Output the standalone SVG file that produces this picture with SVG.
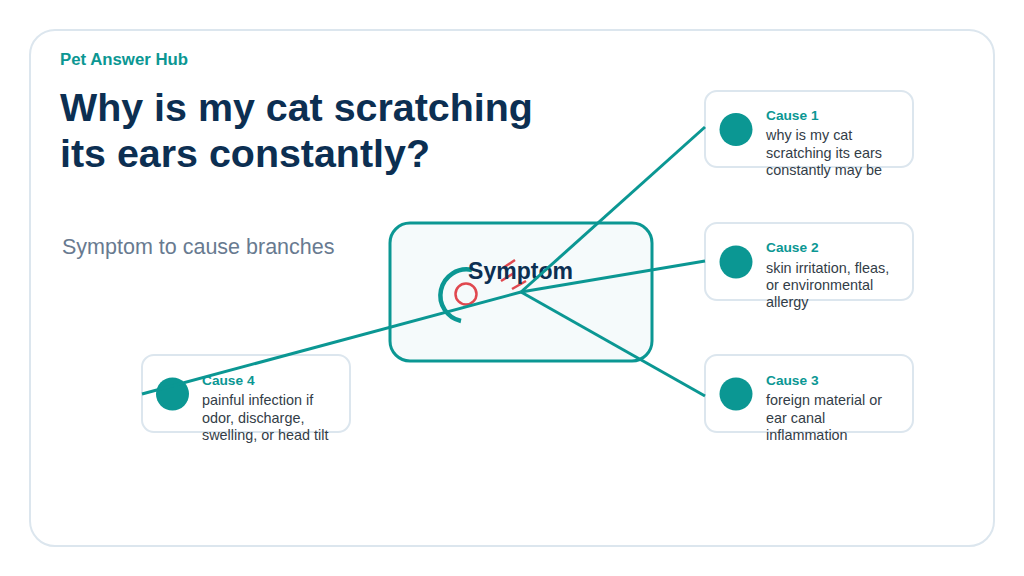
<svg xmlns="http://www.w3.org/2000/svg" width="1024" height="576" viewBox="0 0 1024 576">
<style>
.card{fill:#ffffff;stroke:#dce6ee;stroke-width:2}
.cbox{fill:#ffffff;stroke:#dce6ee;stroke-width:2}
.dot{fill:#0b9793}
.ctitle{font-family:"Liberation Sans",Arial,sans-serif;font-weight:bold;font-size:13.7px;fill:#0b9793}
.cbody{font-family:"Liberation Sans",Arial,sans-serif;font-size:14.4px;fill:#333d47}
.conn{stroke:#0b9793;stroke-width:3;fill:none;stroke-linecap:butt}
</style>
<rect width="1024" height="576" fill="#ffffff"/>
<rect class="card" x="30" y="30" width="964" height="516" rx="25"/>
<text x="60" y="65" font-family="Liberation Sans, Arial, sans-serif" font-weight="bold" font-size="16.8" fill="#0b9793">Pet Answer Hub</text>
<text font-family="Liberation Sans, Arial, sans-serif" font-weight="bold" font-size="39.4" fill="#0c2f52"><tspan x="60" y="121">Why is my cat scratching</tspan><tspan x="60" y="167">its ears constantly?</tspan></text>
<text x="62" y="254" font-family="Liberation Sans, Arial, sans-serif" font-size="21.5" fill="#687a90">Symptom to cause branches</text>

<g id="symptom">
<rect x="390" y="223" width="262" height="138" rx="20" fill="#f5fafb" stroke="#0b9793" stroke-width="3"/>
<path d="M 472 270 A 25 25 0 1 0 461 321" fill="none" stroke="#0b9793" stroke-width="4.5"/>
<circle cx="466" cy="294" r="10.5" fill="none" stroke="#e0484f" stroke-width="2.5"/>
<g stroke="#e0484f" stroke-width="2.5" stroke-linecap="butt">
<line x1="503" y1="268" x2="515" y2="260"/>
<line x1="501" y1="281" x2="514" y2="273"/>
<line x1="512" y1="289" x2="526" y2="281"/>
</g>
<text x="520.5" y="279" text-anchor="middle" font-family="Liberation Sans, Arial, sans-serif" font-weight="bold" font-size="23" fill="#0c2f52">Symptom</text>
</g>

<g id="cause1">
<rect class="cbox" x="705" y="91" width="208" height="76" rx="12"/>
<circle class="dot" cx="736" cy="129.5" r="16.5"/>
<text class="ctitle" x="766" y="120">Cause 1</text>
<text class="cbody"><tspan x="766" y="140">why is my cat</tspan><tspan x="766" y="157.5">scratching its ears</tspan><tspan x="766" y="175">constantly may be</tspan></text>
</g>
<g id="cause2">
<rect class="cbox" x="705" y="223" width="208" height="77" rx="12"/>
<circle class="dot" cx="736" cy="262" r="16.5"/>
<text class="ctitle" x="766" y="252">Cause 2</text>
<text class="cbody"><tspan x="766" y="272.5">skin irritation, fleas,</tspan><tspan x="766" y="290">or environmental</tspan><tspan x="766" y="307">allergy</tspan></text>
</g>
<g id="cause3">
<rect class="cbox" x="705" y="355" width="208" height="77" rx="12"/>
<circle class="dot" cx="736" cy="394" r="16.5"/>
<text class="ctitle" x="766" y="385">Cause 3</text>
<text class="cbody"><tspan x="766" y="405">foreign material or</tspan><tspan x="766" y="422.5">ear canal</tspan><tspan x="766" y="440">inflammation</tspan></text>
</g>
<g id="cause4">
<rect class="cbox" x="142" y="355" width="208" height="77" rx="12"/>
<circle class="dot" cx="172.5" cy="394" r="16.5"/>
<text class="ctitle" x="202" y="385">Cause 4</text>
<text class="cbody"><tspan x="202" y="405">painful infection if</tspan><tspan x="202" y="422.5">odor, discharge,</tspan><tspan x="202" y="440">swelling, or head tilt</tspan></text>
</g>

<g id="connectors">
<line class="conn" x1="521" y1="292" x2="705" y2="127"/>
<line class="conn" x1="521" y1="292" x2="705" y2="261"/>
<line class="conn" x1="521" y1="292" x2="705" y2="396"/>
<line class="conn" x1="521" y1="292" x2="142" y2="394"/>
</g>
</svg>
